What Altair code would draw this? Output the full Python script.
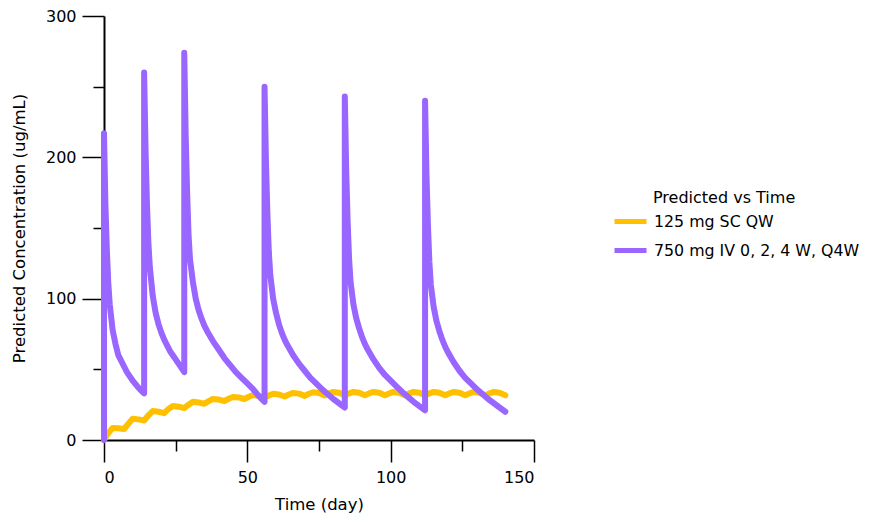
import altair as alt
import pandas as pd

# 750 mg IV 0, 2, 4 W, Q4W  (time in days, concentration in ug/mL)
iv_time = [0, 0, 0.5, 1, 1.5, 2, 3, 4, 5, 6, 7, 8, 9, 10, 11, 12, 13, 14,
           14, 14.5, 15, 15.5, 16, 17, 18, 19, 20, 21, 22, 23, 24, 25, 26, 27, 28,
           28, 28.5, 29, 29.5, 30, 31, 32, 33, 34, 35, 36, 38, 40, 42, 44, 46, 48, 50, 52, 54, 56,
           56, 56.5, 57, 57.5, 58, 59, 60, 61, 62, 63, 64, 66, 68, 70, 72, 74, 76, 78, 80, 82, 84,
           84, 84.5, 85, 85.5, 86, 87, 88, 89, 90, 91, 92, 94, 96, 98, 100, 102, 104, 106, 108, 110, 112,
           112, 112.5, 113, 113.5, 114, 115, 116, 117, 118, 119, 120, 122, 124, 126, 128, 130, 132, 134, 136, 138, 140]
iv_conc = [0, 217, 166, 134, 111, 96, 78, 68, 60, 56, 52, 48, 45, 42, 39.5, 37, 35, 33,
           260, 205, 166, 139, 122, 102, 90, 82, 76, 71, 67, 63, 60, 57, 54, 51, 48,
           274, 215, 175, 145, 128, 112, 100, 92, 86, 81, 77, 70, 64, 58, 53, 48, 44, 40, 36, 31, 27,
           250, 197, 160, 133, 117, 100, 90, 82, 76, 71, 67, 60, 54, 49, 44, 40, 36, 32.5, 29, 26, 23,
           243, 190, 154, 128, 112, 96, 86, 79, 73, 68, 64, 57, 51, 46, 42, 38, 34, 30.5, 27, 24, 21,
           240, 187, 152, 126, 110, 94, 84, 77, 71, 66, 62, 55, 49, 44, 40, 36, 32.5, 29, 26, 23, 20]

# 125 mg SC QW
sc_time = [0, 1.5, 3, 5, 7, 8.5, 10, 12, 14, 15.5, 17, 19, 21, 22.5, 24, 26, 28, 29.5, 31, 33,
           35, 36.5, 38, 40, 42, 43.5, 45, 47, 49, 50.5, 52, 54, 56, 57.5, 59, 61, 63, 64.5, 66, 68,
           70, 71.5, 73, 75, 77, 78.5, 80, 82, 84, 85.5, 87, 89, 91, 92.5, 94, 96, 98, 99.5, 101, 103,
           105, 106.5, 108, 110, 112, 113.5, 115, 117, 119, 120.5, 122, 124, 126, 127.5, 129, 131,
           133, 134.5, 136, 138, 140]
sc_conc = [0, 5, 8.5, 8.3, 7.8, 11.5, 15, 14.6, 13.8, 17.5, 20.5, 20, 19, 22, 24, 23.6, 22.6, 25, 27, 26.6,
           25.6, 27.5, 29, 28.6, 27.6, 29.2, 30.5, 30.1, 29, 30.6, 31.8, 31.3, 30, 31.5, 32.7, 32.2, 30.8, 32.2, 33.3, 32.8,
           31.2, 32.7, 33.8, 33.2, 31.5, 33, 34, 33.4, 31.6, 33, 34, 33.4, 31.6, 33, 34, 33.4, 31.6, 33, 34, 33.4,
           31.6, 33, 34, 33.4, 31.6, 33, 34, 33.4, 31.6, 33, 34, 33.4, 31.6, 33, 34, 33.4,
           31.6, 33, 34, 33.4, 31.6]

series_names = ["125 mg SC QW", "750 mg IV 0, 2, 4 W, Q4W"]
series_colors = ["#FFC000", "#9966FF"]

df = pd.concat([
    pd.DataFrame({"t": sc_time, "c": sc_conc, "s": series_names[0], "o": range(len(sc_time))}),
    pd.DataFrame({"t": iv_time, "c": iv_conc, "s": series_names[1], "o": range(len(iv_time))}),
])

FONT = "DejaVu Sans"

x_axis = alt.Axis(
    values=[0, 25, 50, 75, 100, 125, 150],
    labelExpr="datum.value % 50 === 0 ? datum.label : ''",
    tickSize={"condition": {"test": "datum.value % 50 === 0", "value": 22}, "value": 11},
    grid=False, domainColor="black", domainWidth=2, tickColor="black", tickWidth=1.5,
    labelColor="black", labelFontSize=16, labelFont=FONT, labelPadding=7,
    title="Time (day)", titleFont=FONT, titleFontSize=16.5, titleFontWeight="normal",
    titleColor="black", titlePadding=11,
)
y_axis = alt.Axis(
    values=[0, 50, 100, 150, 200, 250, 300],
    labelExpr="datum.value % 100 === 0 ? datum.label : ''",
    tickSize={"condition": {"test": "datum.value % 100 === 0", "value": 22}, "value": 11},
    grid=False, domainColor="black", domainWidth=2, tickColor="black", tickWidth=1.5,
    labelColor="black", labelFontSize=16, labelFont=FONT, labelPadding=6,
    title="Predicted Concentration (ug/mL)", titleFont=FONT, titleFontSize=16.5,
    titleFontWeight="normal", titleColor="black", titlePadding=18,
)

chart = alt.Chart(df).mark_line(strokeWidth=6, strokeCap="round", strokeJoin="round").encode(
    x=alt.X("t:Q", scale=alt.Scale(domain=[0, 150], nice=False, zero=True), axis=x_axis),
    y=alt.Y("c:Q", scale=alt.Scale(domain=[0, 300], nice=False), axis=y_axis),
    color=alt.Color("s:N", scale=alt.Scale(domain=series_names, range=series_colors),
                    legend=alt.Legend(
                        title=None,
                        orient="none", legendX=508, legendY=187,
                        symbolType="stroke", symbolSize=1024, symbolStrokeWidth=5,
                        labelFont=FONT, labelFontSize=15.8, labelColor="black",
                        labelLimit=400, rowPadding=-6, labelOffset=5,
                    )),
    order="o:Q",
).properties(
    width=430, height=424,
    title=alt.TitleParams(
        text="Predicted vs Time", anchor="start", frame="group", orient="top",
        dx=549, dy=198, offset=0, font=FONT, fontSize=16, fontWeight="normal",
        color="black",
    ),
    autosize=alt.AutoSizeParams(type="none"),
    padding={"left": 96, "top": 8, "right": 330, "bottom": 77},
).configure_view(stroke=None)

chart.save("out.html", embed_options={"renderer": "svg", "actions": False})
